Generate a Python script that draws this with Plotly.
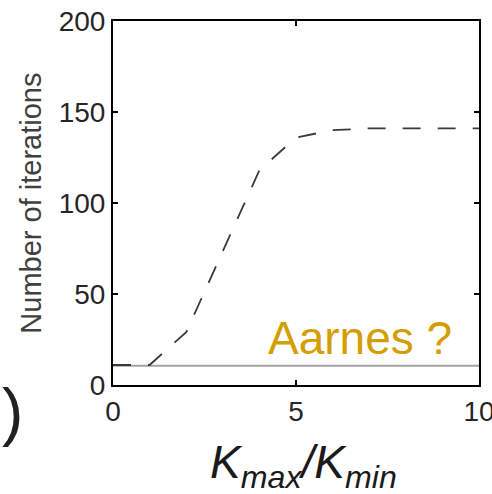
import plotly.graph_objects as go

# Data
x_vals = [0, 1, 2, 3, 4, 5, 6, 7, 8, 9, 10]
dashed_iters = [11, 11, 29, 74, 118, 136, 140, 141, 141, 141, 141]
solid_iters = [10.6, 10.6, 10.6, 10.6, 10.6, 10.6, 10.6, 10.6, 10.6, 10.6, 10.6]
x_ticks = [0, 5, 10]
y_ticks = [0, 50, 100, 150, 200]

FONT = "Liberation Sans, Arial, Helvetica, sans-serif"

fig = go.Figure()
fig.add_trace(go.Scatter(x=x_vals, y=solid_iters, mode="lines",
                         line=dict(color="#a3a3a3", width=2), showlegend=False))
fig.add_trace(go.Scatter(x=x_vals, y=dashed_iters, mode="lines",
                         line=dict(color="#3a3a3a", width=1.8, dash="18px,17px"),
                         showlegend=False))

axis_common = dict(showline=True, linecolor="black", linewidth=2, mirror="ticks",
                   ticks="inside", ticklen=5, tickwidth=1.5, tickcolor="black",
                   showgrid=False, zeroline=False, ticklabeloverflow="allow",
                   automargin=False,
                   tickfont=dict(family=FONT, size=28, color="#262626"))

fig.update_xaxes(range=[0, 10], tickvals=x_ticks, ticktext=[str(v) for v in x_ticks],
                 **axis_common)
fig.update_yaxes(range=[0, 200], tickvals=y_ticks, ticktext=[str(v) for v in y_ticks],
                 **axis_common)

fig.add_annotation(text="Number of iterations", xref="paper", yref="paper",
                   x=-0.225, y=0.5, xanchor="center", yanchor="middle",
                   textangle=-90, showarrow=False,
                   font=dict(family=FONT, size=29, color="#404040"))
fig.add_annotation(text="<i>K<sub>max</sub>/K<sub>min</sub></i>", xref="paper", yref="paper",
                   x=0.52, y=-0.22, yanchor="middle", showarrow=False,
                   font=dict(family=FONT, size=46, color="#1a1a1a"))
fig.add_annotation(text="Aarnes ?", xref="x", yref="y", x=6.74, y=26,
                   showarrow=False,
                   font=dict(family=FONT, size=46, color="#D39E00"))
fig.add_annotation(text=")", xref="paper", yref="paper", x=-0.31, y=-0.074,
                   xanchor="left", yanchor="middle", showarrow=False,
                   font=dict(family=FONT, size=64, color="#222222"))

fig.update_layout(width=492, height=494, margin=dict(l=113, r=13, t=21, b=109),
                  plot_bgcolor="white", paper_bgcolor="white")

fig.write_html("out.html")
